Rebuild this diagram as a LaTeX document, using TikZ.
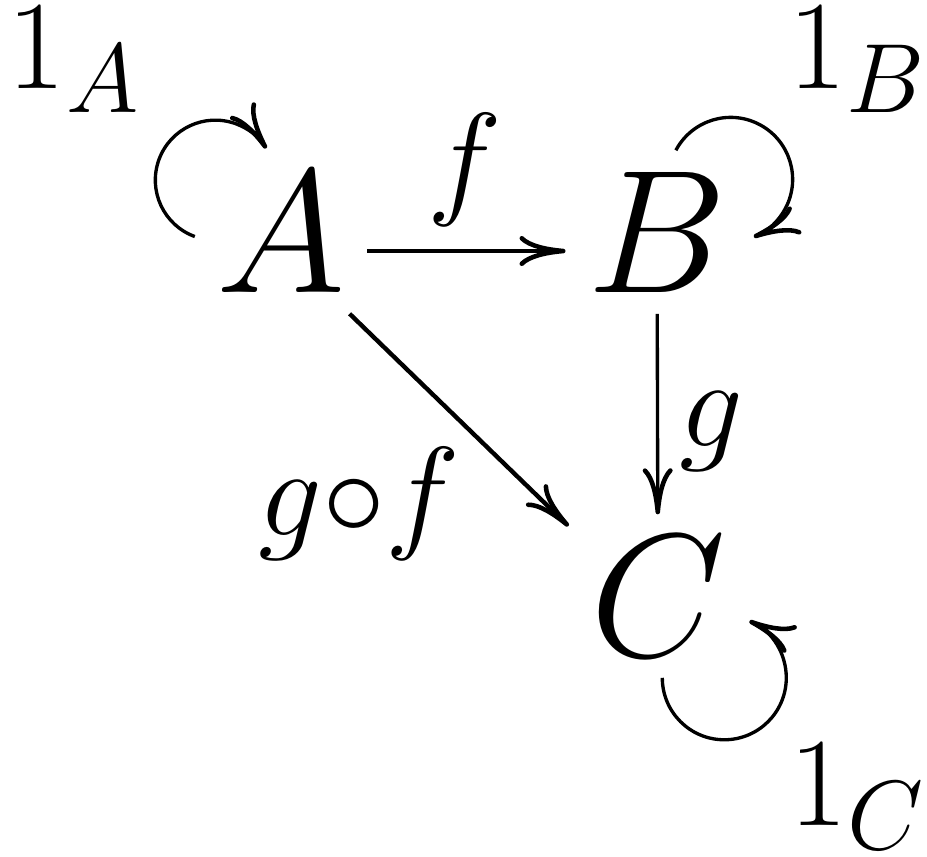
\RequirePackage{fix-cm}
\documentclass[tikz,border=0pt]{standalone}
\usetikzlibrary{arrows.meta}
\DeclareMathSizes{50}{50}{36}{28}

\begin{document}
\begin{tikzpicture}[>={Computer Modern Rightarrow[length=4.6mm,width=3mm,line width=1.3pt]},
  every node/.style={font=\fontsize{50}{60}\selectfont},
  obj/.style={inner sep=0.21cm},
  lbl/.style={inner sep=0pt},
  morph/.style={->, line width=0.95pt}]
\useasboundingbox[fill=white] (0,0) rectangle (9.27,-8.56);
% objects
\node[obj] (A) at (2.81,-2.32) {$A$};
\node[obj] (B) at (6.57,-2.32) {$B$};
\node[obj] (C) at (6.58,-5.96) {$C$};
% morphisms
\draw[morph] ([yshift=-1.9mm]A.east) -- ([yshift=-1.9mm]B.west);
\draw[morph] (B) -- (C);
\draw[morph, line width=1.25pt] (A.-50) -- (C.142);
\node[lbl] (f) at (4.65,-1.70) {$\scriptstyle f$};
\node[lbl] (g) at (7.11,-4.32) {$\scriptstyle g$};
\node[lbl] (gf) at (3.59,-5.04) {$\scriptstyle g\circ f$};
% identities
\draw[morph] (A.183) arc[start angle=250, end angle=32, radius=0.6cm];
\draw[morph] (B.77) arc[start angle=152, end angle=-68, radius=0.62cm];
\draw[morph] (C.273) arc[start angle=180, end angle=426, radius=0.62cm];
\node[lbl] (idA) at (0.74,-0.60) {$\scriptstyle 1_A$};
\node[lbl] (idB) at (8.57,-0.60) {$\scriptstyle 1_B$};
\node[lbl] (idC) at (8.57,-7.97) {$\scriptstyle 1_C$};
\end{tikzpicture}
\end{document}
